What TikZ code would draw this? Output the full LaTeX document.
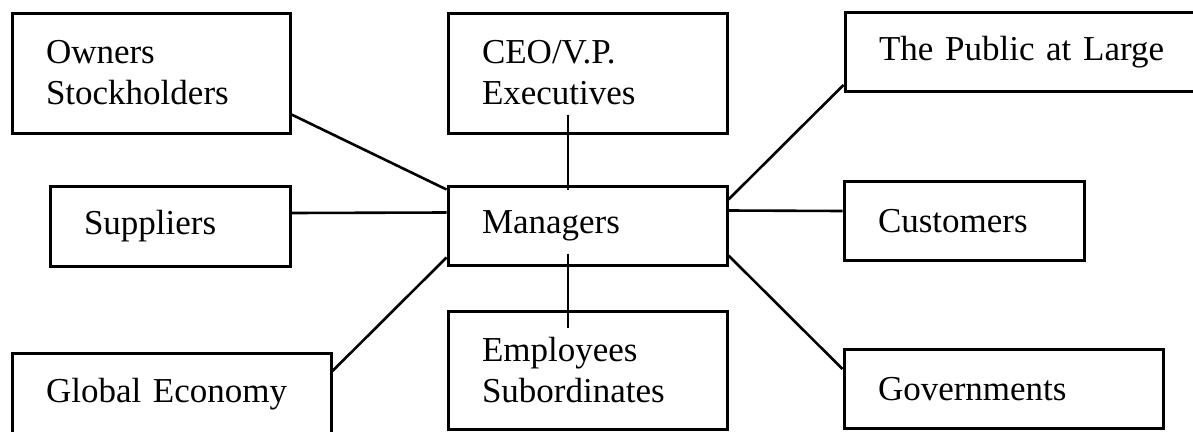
\documentclass[tikz,border=0pt]{standalone}
\usepackage{fontspec}
\setmainfont{Liberation Serif}
\usepackage{tikz}

\begin{document}
\begin{tikzpicture}[x=1pt,y=-1pt,
            box/.style={draw,line width=3pt,inner xsep=34pt,inner ysep=0pt,align=left,
                font=\fontsize{35}{41}\selectfont},
            link/.style={line width=2.6pt}]
            % Canvas
            \useasboundingbox (0,0) rectangle (1193,431);
            % Left column
            \node[box,text width=210pt,minimum height=120pt] (own) at (151,73) {Owners\\Stockholders};
            \node[box,text width=172pt,minimum height=80pt] (sup) at (170,226) {Suppliers};
            \node[box,text width=251pt,minimum height=81pt] (glo) at (171.5,394) {Global Economy};
            % Middle column
            \node[box,text width=211pt,minimum height=120pt] (ceo) at (587.5,73) {CEO/V.P.\\Executives};
            \node[box,text width=211pt,minimum height=79pt] (mgr) at (587.5,225.5) {Managers};
            \node[box,text width=211pt,minimum height=118pt] (emp) at (587.5,370) {Employees\\Subordinates};
            % Right column
            \node[box,text width=292pt,minimum height=79pt] (pub) at (1025,52) {The Public at Large};
            \node[box,text width=172pt,minimum height=79pt] (cus) at (964,221) {Customers};
            \node[box,text width=251pt,minimum height=79pt] (gov) at (1003.5,389) {Governments};
            % Links to the managers
            \draw[link] ([yshift=20pt]own.south east) -- ([yshift=-5pt]mgr.north west);
            \draw[link] ([yshift=13pt]sup.east) -- ([yshift=13pt]mgr.west);
            \draw[link] ([yshift=-19pt]glo.north east) -- ([yshift=9pt]mgr.south west);
            \draw[link] ([xshift=-19.5pt,yshift=20pt]ceo.south) -- ([xshift=-19.5pt,yshift=-5pt]mgr.north);
            \draw[link] ([xshift=-19.5pt,yshift=13pt]mgr.south) -- ([xshift=-19.5pt,yshift=-18pt]emp.north);
            \draw[link] ([yshift=8pt]pub.south west) -- ([yshift=-15pt]mgr.north east);
            \draw[link] ([yshift=15pt]mgr.east) -- ([yshift=10pt]cus.west);
            \draw[link] ([yshift=11pt]mgr.south east) -- ([yshift=-21pt]gov.north west);
        \end{tikzpicture}
\end{document}
